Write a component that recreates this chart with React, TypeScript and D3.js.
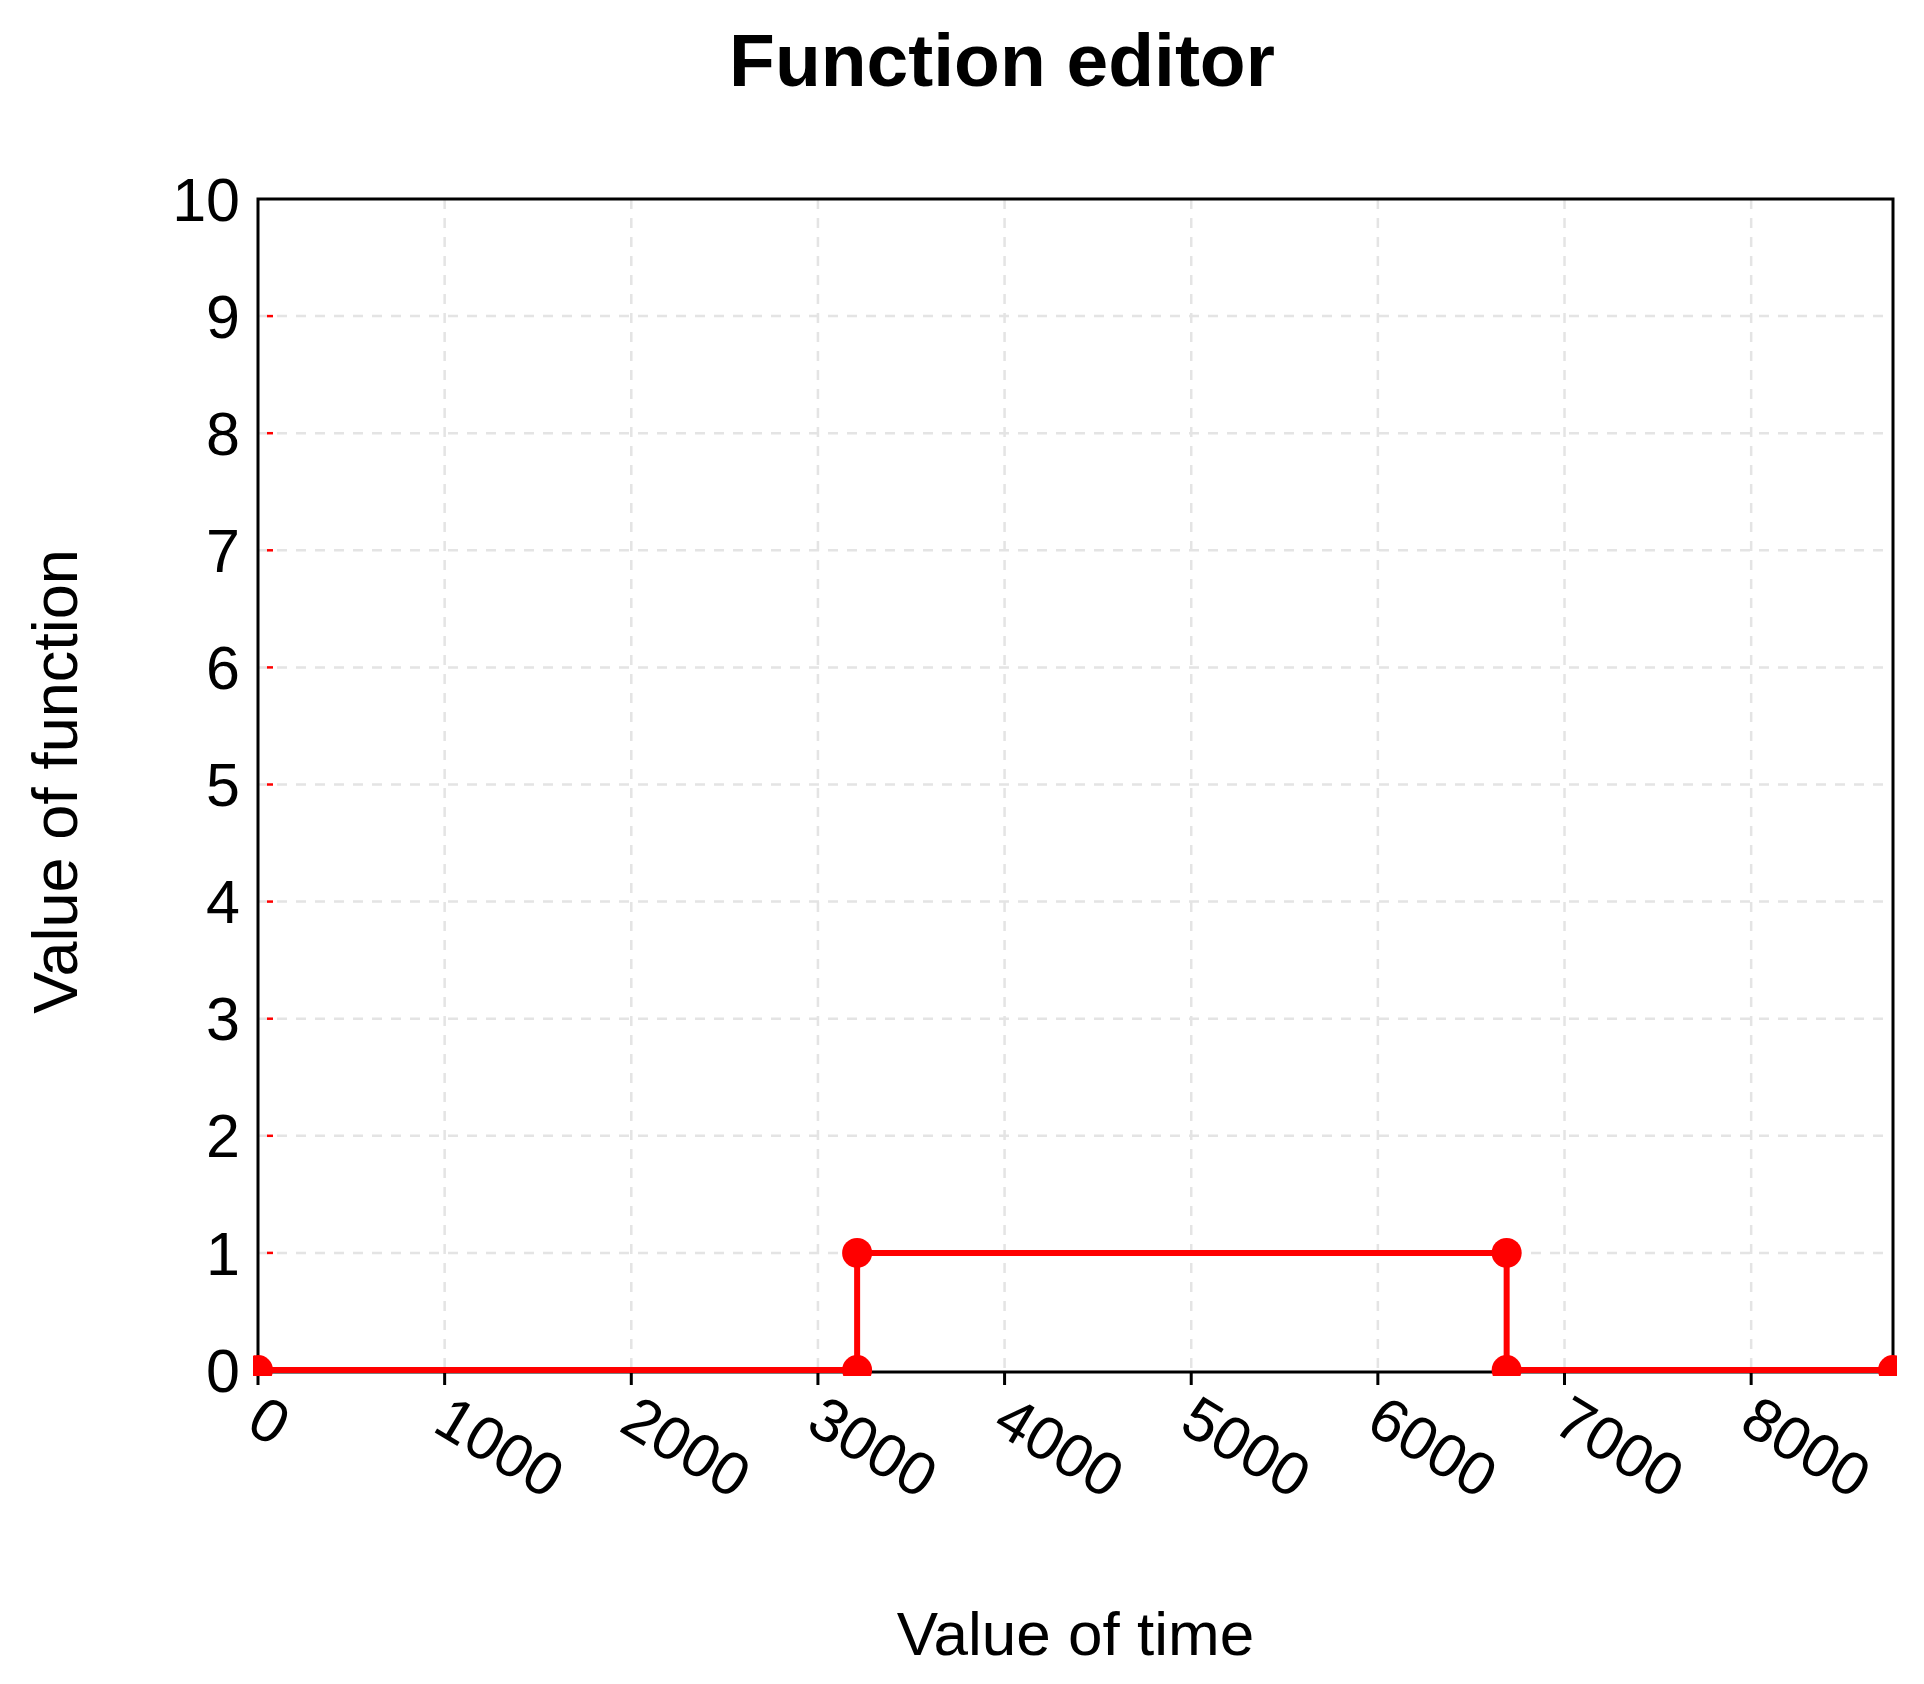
import React from "react";
import * as d3 from "d3";

const xValues = [0, 3210, 3210, 6690, 6690, 8760];
const yValues = [0, 0, 1, 1, 0, 0];
const xTicks = [0, 1000, 2000, 3000, 4000, 5000, 6000, 7000, 8000];
const yTicks = [0, 1, 2, 3, 4, 5, 6, 7, 8, 9, 10];
const titleText = "Function editor";
const xLabel = "Value of time";
const yLabel = "Value of function";

const W = 1924;
const H = 1684;
const L = 258, R = 1893, T = 199, B = 1370;
const FONT = "'Liberation Sans', Arial, sans-serif";

export default function App() {
  const x = d3.scaleLinear().domain([0, 8760]).range([L, R]);
  const y = d3.scaleLinear().domain([0, 10]).range([B, T]);
  const pts = xValues.map((v, i) => [v, yValues[i]] as [number, number]);
  const line = d3.line<[number, number]>().x(d => x(d[0])).y(d => y(d[1]));

  return (
    <div style={{ position: "absolute", left: 0, top: 0 }}>
      <svg width={W} height={H} style={{ display: "block", background: "#fff" }}>
        <defs>
          <clipPath id="plotclip">
            <rect x={L - 5} y={T - 4} width={R - L + 9} height={B - T + 10} />
          </clipPath>
        </defs>
        <text x={1002} y={86} textAnchor="middle" fontFamily={FONT} fontWeight="bold" fontSize={75} fill="#000">{titleText}</text>

        {/* grid */}
        {xTicks.filter(t => t > 0).map(t => (
          <line key={"gx" + t} x1={x(t)} x2={x(t)} y1={T} y2={B} stroke="#e4e4e4" strokeWidth={2.5} strokeDasharray="10,9" />
        ))}
        {yTicks.filter(t => t > 0 && t < 10).map(t => (
          <line key={"gy" + t} x1={L} x2={R} y1={y(t)} y2={y(t)} stroke="#e4e4e4" strokeWidth={2.5} strokeDasharray="10,9" />
        ))}
        {yTicks.filter(t => t > 0 && t < 10).map(t => (
          <line key={"ry" + t} x1={L + 9} x2={L + 15} y1={y(t)} y2={y(t)} stroke="#ff0000" strokeWidth={2.5} />
        ))}

        {/* frame */}
        <rect x={L} y={T} width={R - L} height={B - T + 2} fill="none" stroke="#000" strokeWidth={3} />

        {/* x ticks */}
        {xTicks.map(t => (
          <line key={"tx" + t} x1={x(t)} x2={x(t)} y1={B + 2} y2={B + 15} stroke="#000" strokeWidth={3} />
        ))}
        {xTicks.map(t => (
          <text key={"lx" + t} x={x(t) - 14} y={1430} transform={`rotate(31 ${x(t) - 14} 1430)`} fontFamily={FONT} fontSize={61} fill="#000">{t}</text>
        ))}
        {yTicks.map(t => (
          <text key={"ly" + t} x={240} y={y(t)} dy="0.355em" textAnchor="end" fontFamily={FONT} fontSize={61} fill="#000">{t}</text>
        ))}

        {/* data */}
        <g clipPath="url(#plotclip)">
          <path d={line(pts) || ""} fill="none" stroke="#ff0000" strokeWidth={6} />
          {pts.map((p, i) => (
            <circle key={"p" + i} cx={x(p[0])} cy={y(p[1])} r={15} fill="#ff0000" />
          ))}
        </g>

        <text x={(L + R) / 2} y={1655} textAnchor="middle" fontFamily={FONT} fontSize={62} fill="#000">{xLabel}</text>
        <text transform={`translate(77 ${(T + B) / 2 - 3}) rotate(-90)`} textAnchor="middle" fontFamily={FONT} fontSize={63} fill="#000">{yLabel}</text>
      </svg>
    </div>
  );
}
